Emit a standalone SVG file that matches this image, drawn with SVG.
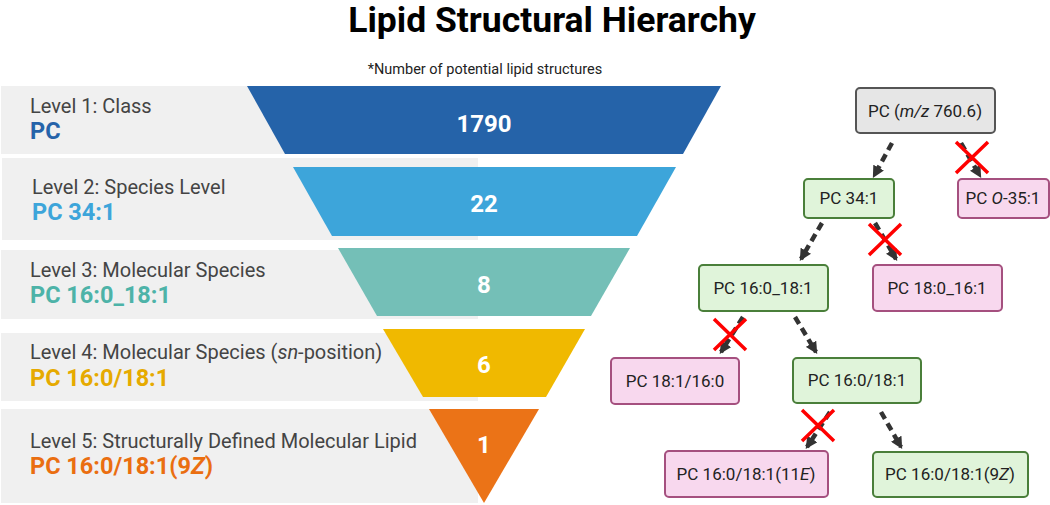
<svg xmlns="http://www.w3.org/2000/svg" width="1050" height="505" viewBox="0 0 1050 505">
<defs>
<style>
text{font-family:Roboto,"Liberation Sans",sans-serif}
.band{fill:#f0f0f0}
.lvl{font-size:20px;fill:#444}
.pc{font-size:23.5px;font-weight:bold}
.num{font-size:24px;font-weight:bold;fill:#fff;text-anchor:middle}
.node text{font-size:17px;fill:#222;text-anchor:middle}
.g rect{fill:#e0f4da;stroke:#4a7f3a;stroke-width:2}
.p rect{fill:#f8d8ee;stroke:#a5507f;stroke-width:2}
.r rect{fill:#e6e6e6;stroke:#555;stroke-width:2}
.arr{stroke:#333;stroke-width:4.5;stroke-dasharray:8,5;fill:none;marker-end:url(#ah)}
.x{stroke:#ff0000;stroke-width:3.5}
</style>
<marker id="ah" viewBox="0 0 10 10" refX="8" refY="5" markerWidth="12" markerHeight="12" markerUnits="userSpaceOnUse" orient="auto">
<path d="M0,0 L10,5 L0,10 Z" fill="#333"/>
</marker>
</defs>
<rect width="1050" height="505" fill="#fff"/>
<text x="552" y="32" font-size="35.5" font-weight="bold" text-anchor="middle" fill="#000">Lipid Structural Hierarchy</text>
<text x="485" y="74" font-size="14.5" text-anchor="middle" fill="#222">*Number of potential lipid structures</text>

<g id="level1">
<rect class="band" x="1" y="86" width="477" height="68"/>
<polygon points="247,86 721,86 683,154 285,154" fill="#2563a9"/>
<text class="num" x="484" y="132">1790</text>
<text class="lvl" x="30" y="113">Level 1: Class</text>
<text class="pc" x="30" y="139" fill="#2563a9">PC</text>
</g>
<g id="level2">
<rect class="band" x="2" y="158" width="476" height="82"/>
<polygon points="293,167 676,167 637,236 332,236" fill="#3da5da"/>
<text class="num" x="484" y="212">22</text>
<text class="lvl" x="32" y="194">Level 2: Species Level</text>
<text class="pc" x="32" y="220" fill="#3da5da">PC 34:1</text>
</g>
<g id="level3">
<rect class="band" x="1" y="250" width="477" height="69"/>
<polygon points="338,248 630,248 591,316 377,316" fill="#74bfb7"/>
<text class="num" x="484" y="293">8</text>
<text class="lvl" x="30" y="277">Level 3: Molecular Species</text>
<text class="pc" x="30" y="303" fill="#4db3a8">PC 16:0_18:1</text>
</g>
<g id="level4">
<rect class="band" x="1" y="333" width="477" height="68"/>
<polygon points="383,329 585,329 546,397 423,397" fill="#f0b900"/>
<text class="num" x="484" y="373">6</text>
<text class="lvl" x="30" y="359">Level 4: Molecular Species (<tspan font-style="italic">sn</tspan>-position)</text>
<text class="pc" x="30" y="386" fill="#e6aa00">PC 16:0/18:1</text>
</g>
<g id="level5">
<rect class="band" x="1" y="409" width="477" height="94"/>
<polygon points="429,409 539,409 484,503" fill="#eb7317"/>
<text class="num" x="484" y="453">1</text>
<text class="lvl" x="30" y="448">Level 5: Structurally Defined Molecular Lipid</text>
<text class="pc" x="30" y="474" fill="#ea6e10">PC 16:0/18:1(9<tspan font-style="italic">Z</tspan>)</text>
</g>

<g id="connectors">
<line class="arr" x1="892" y1="143" x2="874" y2="176"/>
<line class="arr" x1="961" y1="143" x2="980" y2="176"/>
<line class="arr" x1="822" y1="223" x2="801" y2="259"/>
<line class="arr" x1="875" y1="223" x2="896" y2="259"/>
<line class="arr" x1="743" y1="317" x2="721" y2="352"/>
<line class="arr" x1="795" y1="317" x2="816" y2="352"/>
<line class="arr" x1="830" y1="412" x2="807" y2="447"/>
<line class="arr" x1="881" y1="412" x2="901" y2="447"/>
<path class="x" d="M956,142 L988,173 M988,142 L956,173"/>
<path class="x" d="M869,224 L901,255 M901,224 L869,255"/>
<path class="x" d="M714,319 L746,350 M746,319 L714,350"/>
<path class="x" d="M802,410 L834,441 M834,410 L802,441"/>
</g>

<g id="root" class="node r"><rect x="856" y="88" width="139" height="45" rx="4"/><text x="925" y="117">PC (<tspan font-style="italic">m/z</tspan> 760.6)</text></g>
<g id="n34" class="node g"><rect x="804" y="179" width="90" height="39" rx="4"/><text x="849" y="204">PC 34:1</text></g>
<g id="nO35" class="node p"><rect x="958" y="179" width="91" height="39" rx="4"/><text x="1003" y="204">PC <tspan font-style="italic">O</tspan>-35:1</text></g>
<g id="n16_18" class="node g"><rect x="699" y="265" width="129" height="46" rx="4"/><text x="763" y="294">PC 16:0_18:1</text></g>
<g id="n18_16" class="node p"><rect x="873" y="265" width="129" height="46" rx="4"/><text x="937" y="294">PC 18:0_16:1</text></g>
<g id="n181_160" class="node p"><rect x="611" y="358" width="128" height="46" rx="4"/><text x="675" y="387">PC 18:1/16:0</text></g>
<g id="n160_181" class="node g"><rect x="793" y="358" width="128" height="45" rx="4"/><text x="857" y="386">PC 16:0/18:1</text></g>
<g id="n11E" class="node p"><rect x="665" y="451" width="163" height="46" rx="4"/><text x="746" y="480">PC 16:0/18:1(11<tspan font-style="italic">E</tspan>)</text></g>
<g id="n9Z" class="node g"><rect x="873" y="452" width="155" height="45" rx="4"/><text x="950" y="480">PC 16:0/18:1(9<tspan font-style="italic">Z</tspan>)</text></g>
</svg>
